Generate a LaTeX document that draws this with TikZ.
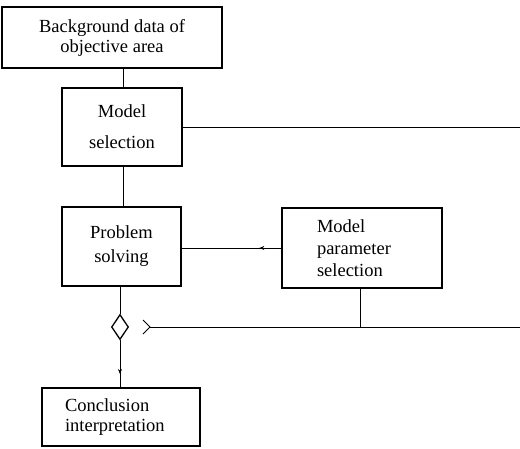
\documentclass[tikz,border=0pt]{standalone}
\usepackage{fontspec}
\setmainfont{Liberation Serif}
\usetikzlibrary{shapes.geometric,arrows.meta,decorations.markings}
\begin{document}
\begin{tikzpicture}[x=1pt,y=-1pt,
  boxnode/.style={draw,line width=1.6pt,rectangle,inner sep=0pt},
  conn/.style={line width=0.9pt},
  midarrow/.style={postaction={decorate},decoration={markings,mark=at position #1 with {\arrow{Stealth[length=5pt,width=4pt]}}}},
  txt/.style={font=\fontsize{18.5}{#1}\selectfont}
]
\useasboundingbox (0,0) rectangle (520,448);
\node[boxnode,minimum width=220pt,minimum height=61pt,align=center,txt=20pt] (bg) at (112,37.5) {Background data of\\objective area};
\node[boxnode,minimum width=120pt,minimum height=78pt,align=center,txt=31pt] (ms) at (122,127) {Model\\selection};
\node[boxnode,minimum width=119pt,minimum height=79pt,align=center,txt=24pt] (ps) at (121.5,246.5) {Problem\\solving};
\node[boxnode,minimum width=160pt,minimum height=80pt,text width=90pt,align=left,txt=22pt] (mp) at (362,248) {Model\\parameter\\selection};
\node[boxnode,minimum width=158pt,minimum height=58pt,text width=112pt,align=left,txt=20pt] (ci) at (121,417) {Conclusion\\interpretation};
\node[draw,diamond,line width=1.3pt,minimum width=17pt,minimum height=25pt,inner sep=0pt] (dm) at (120,327) {};
\coordinate (r1) at (520,127);
\coordinate (r2) at (520,327);
\coordinate (fork) at (150,327);
\coordinate (forka) at (143,320);
\coordinate (forkb) at (143,334);
\coordinate (mpb) at (360,327);

\draw[conn] (bg.south -| 123,0) -- (ms.north -| 123,0);
\draw[conn] (ms.south -| 123,0) -- (ps.north -| 123,0);
\draw[conn] (ms.east) -- (r1);
\draw[conn,midarrow=0.22] (mp.west) -- (ps.east |- mp.west);
\draw[conn] (ps.south -| 120,0) -- (dm.north);
\draw[conn,midarrow=0.72] (dm.south) -- (ci.north -| 120,0);
\draw[conn] (mp.south -| mpb) -- (mpb);
\draw[conn] (fork) -- (r2);
\draw[conn] (forka) -- (fork) -- (forkb);
\end{tikzpicture}
\end{document}
